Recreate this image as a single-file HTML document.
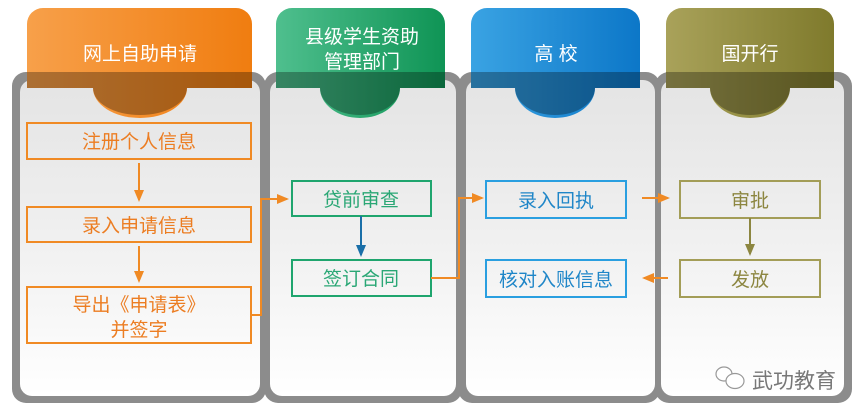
<!DOCTYPE html>
<html><head><meta charset="utf-8"><style>
body{margin:0;background:#fff;width:855px;height:405px;overflow:hidden}
svg text{font-family:"Liberation Sans","Noto Sans CJK SC",sans-serif}
</style></head><body>
<svg width="855" height="405" viewBox="0 0 855 405" xmlns="http://www.w3.org/2000/svg">
<defs>
<linearGradient id="pg" x1="0" y1="0" x2="0" y2="1"><stop offset="0" stop-color="#e4e4e4"/><stop offset="0.5" stop-color="#f0f0f0"/><stop offset="1" stop-color="#ffffff"/></linearGradient>
<linearGradient id="go" x1="0" x2="1"><stop offset="0" stop-color="#f7a04a"/><stop offset="1" stop-color="#f07d10"/></linearGradient>
<linearGradient id="gg" x1="0" x2="1"><stop offset="0" stop-color="#4fbf8e"/><stop offset="1" stop-color="#0f9455"/></linearGradient>
<linearGradient id="gb" x1="0" x2="1"><stop offset="0" stop-color="#3aa3e3"/><stop offset="1" stop-color="#0c77c8"/></linearGradient>
<linearGradient id="gy" x1="0" x2="1"><stop offset="0" stop-color="#a9a25a"/><stop offset="1" stop-color="#7f7a2c"/></linearGradient>
<marker id="a" markerWidth="6" markerHeight="6" refX="5" refY="3" orient="auto"><path d="M0,0.5L6,3L0,5.5z" fill="context-stroke"/></marker>
</defs>
<!-- panels -->
<g>
<rect x="12" y="72" width="254" height="331" rx="14" fill="#8c8c8c"/>
<rect x="20" y="80" width="240" height="316" rx="12" fill="url(#pg)"/>
<rect x="264" y="72" width="198" height="331" rx="14" fill="#8c8c8c"/>
<rect x="270" y="80" width="186" height="316" rx="12" fill="url(#pg)"/>
<rect x="458" y="72" width="202" height="331" rx="14" fill="#8c8c8c"/>
<rect x="466" y="80" width="189" height="316" rx="12" fill="url(#pg)"/>
<rect x="655" y="72" width="197" height="331" rx="14" fill="#8c8c8c"/>
<rect x="661" y="80" width="183" height="316" rx="12" fill="url(#pg)"/>
</g>
<!-- headers -->
<g>
<path d="M27,88V24a16,16 0 0 1 16,-16H236a16,16 0 0 1 16,16V88H187a47,30 0 0 1 -94,0Z" fill="url(#go)"/>
<path d="M27,72H252V88H187a47,27 0 0 1 -94,0H27Z" fill="#000" opacity="0.3"/>
<path d="M276,88V24a16,16 0 0 1 16,-16H429a16,16 0 0 1 16,16V88H400a40,30 0 0 1 -80,0Z" fill="url(#gg)"/>
<path d="M276,72H445V88H400a40,27 0 0 1 -80,0H276Z" fill="#000" opacity="0.3"/>
<path d="M471,88V24a16,16 0 0 1 16,-16H624a16,16 0 0 1 16,16V88H595a40,30 0 0 1 -80,0Z" fill="url(#gb)"/>
<path d="M471,72H640V88H595a40,27 0 0 1 -80,0H471Z" fill="#000" opacity="0.3"/>
<path d="M666,88V24a16,16 0 0 1 16,-16H818a16,16 0 0 1 16,16V88H790a40,30 0 0 1 -80,0Z" fill="url(#gy)"/>
<path d="M666,72H834V88H790a40,27 0 0 1 -80,0H666Z" fill="#000" opacity="0.3"/>
<g fill="#fff" font-size="19" text-anchor="middle">
<text x="140" y="60">网上自助申请</text>
<text x="362" y="43">县级学生资助</text>
<text x="362" y="68">管理部门</text>
<text x="556" y="60">高  校</text>
<text x="750" y="60">国开行</text>
</g>
</g>
<!-- boxes -->
<g fill="none" stroke-width="2">
<rect x="27" y="123" width="224" height="36" stroke="#f08a24"/>
<rect x="27" y="207" width="224" height="35" stroke="#f08a24"/>
<rect x="27" y="287" width="224" height="56" stroke="#f08a24"/>
<rect x="292" y="181" width="139" height="35" stroke="#1fa56e"/>
<rect x="292" y="260" width="139" height="36" stroke="#1fa56e"/>
<rect x="486" y="181" width="140" height="37" stroke="#2a9fe0"/>
<rect x="486" y="260" width="140" height="37" stroke="#2a9fe0"/>
<rect x="680" y="181" width="140" height="37" stroke="#a39d57"/>
<rect x="680" y="260" width="140" height="37" stroke="#a39d57"/>
</g>
<g font-size="19" text-anchor="middle">
<text x="139" y="148" fill="#ec7d22">注册个人信息</text>
<text x="139" y="232" fill="#ec7d22">录入申请信息</text>
<text x="139" y="311" fill="#ec7d22">导出《申请表》</text>
<text x="139" y="336" fill="#ec7d22">并签字</text>
<text x="361" y="206" fill="#2aa775">贷前审查</text>
<text x="361" y="285" fill="#2aa775">签订合同</text>
<text x="556" y="207" fill="#1f86c8">录入回执</text>
<text x="556" y="286" fill="#1f86c8">核对入账信息</text>
<text x="750" y="207" fill="#8c8640">审批</text>
<text x="750" y="286" fill="#8c8640">发放</text>
</g>
<!-- connectors -->
<g fill="none" stroke-width="2">
<path d="M139,163V200" stroke="#f08a24" marker-end="url(#a)"/>
<path d="M139,246V281" stroke="#f08a24" marker-end="url(#a)"/>
<path d="M251,315H261V199H287" stroke="#f08a24" marker-end="url(#a)"/>
<path d="M361,216V255" stroke="#1a6fa8" marker-end="url(#a)"/>
<path d="M431,278H459V198H482" stroke="#f08a24" marker-end="url(#a)"/>
<path d="M642,198H668" stroke="#f08a24" marker-end="url(#a)"/>
<path d="M668,278H644" stroke="#f08a24" marker-end="url(#a)"/>
<path d="M750,218V254" stroke="#8c8640" marker-end="url(#a)"/>
</g>
<!-- watermark -->
<g stroke="#999" fill="#fff" stroke-width="1.2">
<ellipse cx="724" cy="374" rx="8" ry="7"/>
<ellipse cx="735" cy="381" rx="9" ry="7.5"/>
</g>
<text x="752" y="388" font-size="21" fill="#777">武功教育</text>
</svg>
</body></html>
